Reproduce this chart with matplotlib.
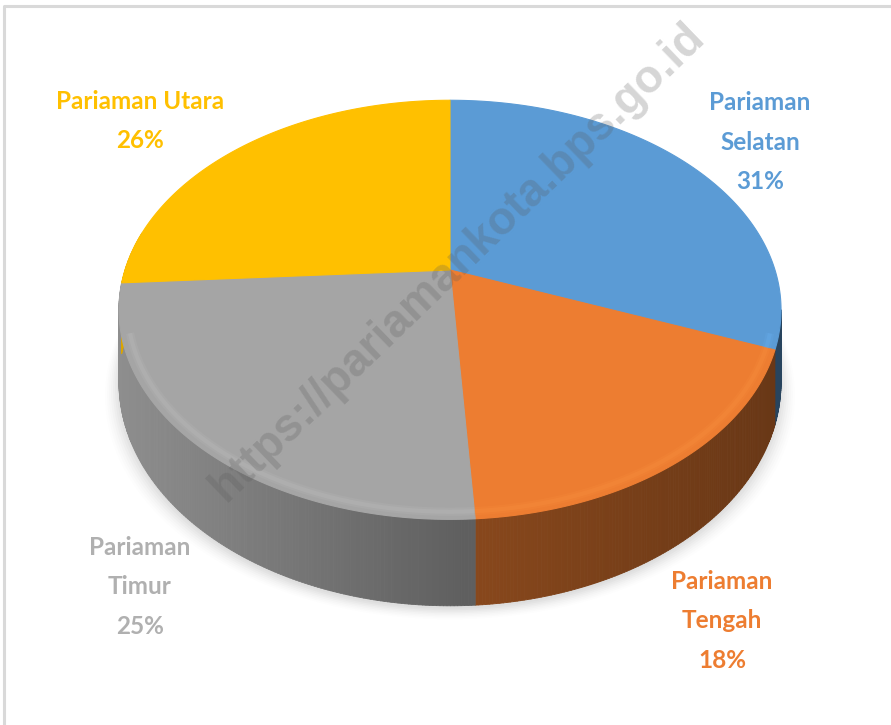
import numpy as np
import matplotlib
matplotlib.use("Agg")
import matplotlib.pyplot as plt
from matplotlib.collections import PolyCollection
from matplotlib.colors import to_rgb

# ------------------------------------------------------------
# Data
# ------------------------------------------------------------
labels = ["Pariaman\nSelatan", "Pariaman\nTengah", "Pariaman\nTimur", "Pariaman Utara"]
shares = [31, 18, 25, 26]
colors = ["#5b9bd5", "#ed7d31", "#a5a5a5", "#ffc000"]
label_colors = ["#5b9bd5", "#ed7d31", "#b0b0b0", "#ffc000"]
label_pos = [(760, 142), (722, 621), (140, 587), (140, 121)]
watermark = "https://pariamankota.bps.go.id"

# ------------------------------------------------------------
# Geometry of the tilted pie (pixel space, y down)
# ------------------------------------------------------------
W, H = 891, 725
cx, cy = 450, 270      # apex of the slices
A, B = 325, 202        # radii of the top face
p = 0.19               # perspective strength
depth = 70             # thickness of the pie


def proj(theta, drop=0.0, r=1.0):
    s = 1 + p * r * np.sin(theta)
    x = cx + r * A * np.cos(theta) / s
    y = cy - r * B * np.sin(theta) / s + depth * drop / s
    return x, y


def shade(rgb, x):
    # side gets darker from left to right
    f = np.interp(x, [120, 460, 780], [0.86, 0.58, 0.44])
    return tuple(np.clip(np.array(rgb) * f, 0, 1))


fig = plt.figure(figsize=(W / 100, H / 100), dpi=100)
ax = fig.add_axes([0, 0, 1, 1])
ax.set_xlim(0, W)
ax.set_ylim(H, 0)
ax.axis("off")

# frame (only left and top edges are visible)
ax.plot([4, 4, W], [H, 6, 6], color="#d9d9d9", lw=2.2, solid_capstyle="butt")

# slice angles, clockwise from 12 o'clock
fracs = np.array(shares) / np.sum(shares)
bounds = np.pi / 2 - 2 * np.pi * np.concatenate([[0], np.cumsum(fracs)])

# soft shadow under the pie
tt = np.linspace(0, 2 * np.pi, 400)
for k, a in zip(range(8), np.linspace(0.05, 0.015, 8)):
    sx, sy = proj(tt, 1.0)
    sx = cx + (sx - cx) * (1 + 0.006 * k)
    sy = sy + 3 + 1.5 * k
    ax.fill(sx, sy, color="#808080", alpha=a, lw=0, zorder=1)

# visible range of the side wall
vis_hi = -np.arcsin(p)
vis_lo2 = -np.pi - np.arcsin(p)

# side walls
for i in range(len(shares)):
    t0, t1 = bounds[i], bounds[i + 1]   # t0 > t1
    hi = min(t0, vis_hi)
    lo = max(t1, vis_lo2)
    if hi <= lo:
        continue
    ts = np.linspace(lo, hi, max(3, int((hi - lo) / np.radians(0.5))))
    rgb = to_rgb(colors[i])
    polys, fcs = [], []
    for a0, a1 in zip(ts[:-1], ts[1:]):
        x0, y0 = proj(a0, 0)
        x1, y1 = proj(a1, 0)
        x2, y2 = proj(a1, 1)
        x3, y3 = proj(a0, 1)
        polys.append([(x0, y0), (x1, y1), (x2, y2), (x3, y3)])
        fcs.append(shade(rgb, 0.5 * (x0 + x1)))
    pc = PolyCollection(polys, facecolors=fcs, edgecolors=fcs, linewidths=0.6, zorder=2)
    ax.add_collection(pc)

# top faces
for i in range(len(shares)):
    t0, t1 = bounds[i], bounds[i + 1]
    ts = np.linspace(t0, t1, 200)
    x, y = proj(ts, 0)
    xs = np.concatenate([[cx], x])
    ys = np.concatenate([[cy], y])
    ax.fill(xs, ys, color=colors[i], lw=0.8, ec=colors[i], zorder=3)
    # soft bevel highlight just inside the front rim
    rgb = np.array(to_rgb(colors[i]))
    light = tuple(np.clip(rgb * 1.12 + 0.05, 0, 1))
    front = ts[(ts < -0.3) & (ts > -np.pi + 0.3)]
    if len(front) > 1:
        for r, lw, al in [(0.975, 6, 0.12), (0.975, 3, 0.18)]:
            bx, by = proj(front, 0, r=r)
            ax.plot(bx, by, color=light, lw=lw, alpha=al, zorder=4,
                    solid_capstyle="butt")

# data labels
for lab, s, c, (lx, ly) in zip(labels, shares, label_colors, label_pos):
    ax.text(lx, ly, f"{lab}\n{s}%", color=c, fontsize=17.5, fontweight="bold",
            family=["Lato", "DejaVu Sans"], ha="center", va="center",
            linespacing=1.85, zorder=6)

# watermark
ax.text(458, 262, watermark, rotation=44, rotation_mode="anchor",
        ha="center", va="center", fontsize=33, fontweight="bold",
        family=["Liberation Sans", "DejaVu Sans"], color="#5a5a5a",
        alpha=0.25, zorder=7)

fig.savefig("out.png", dpi=100)
